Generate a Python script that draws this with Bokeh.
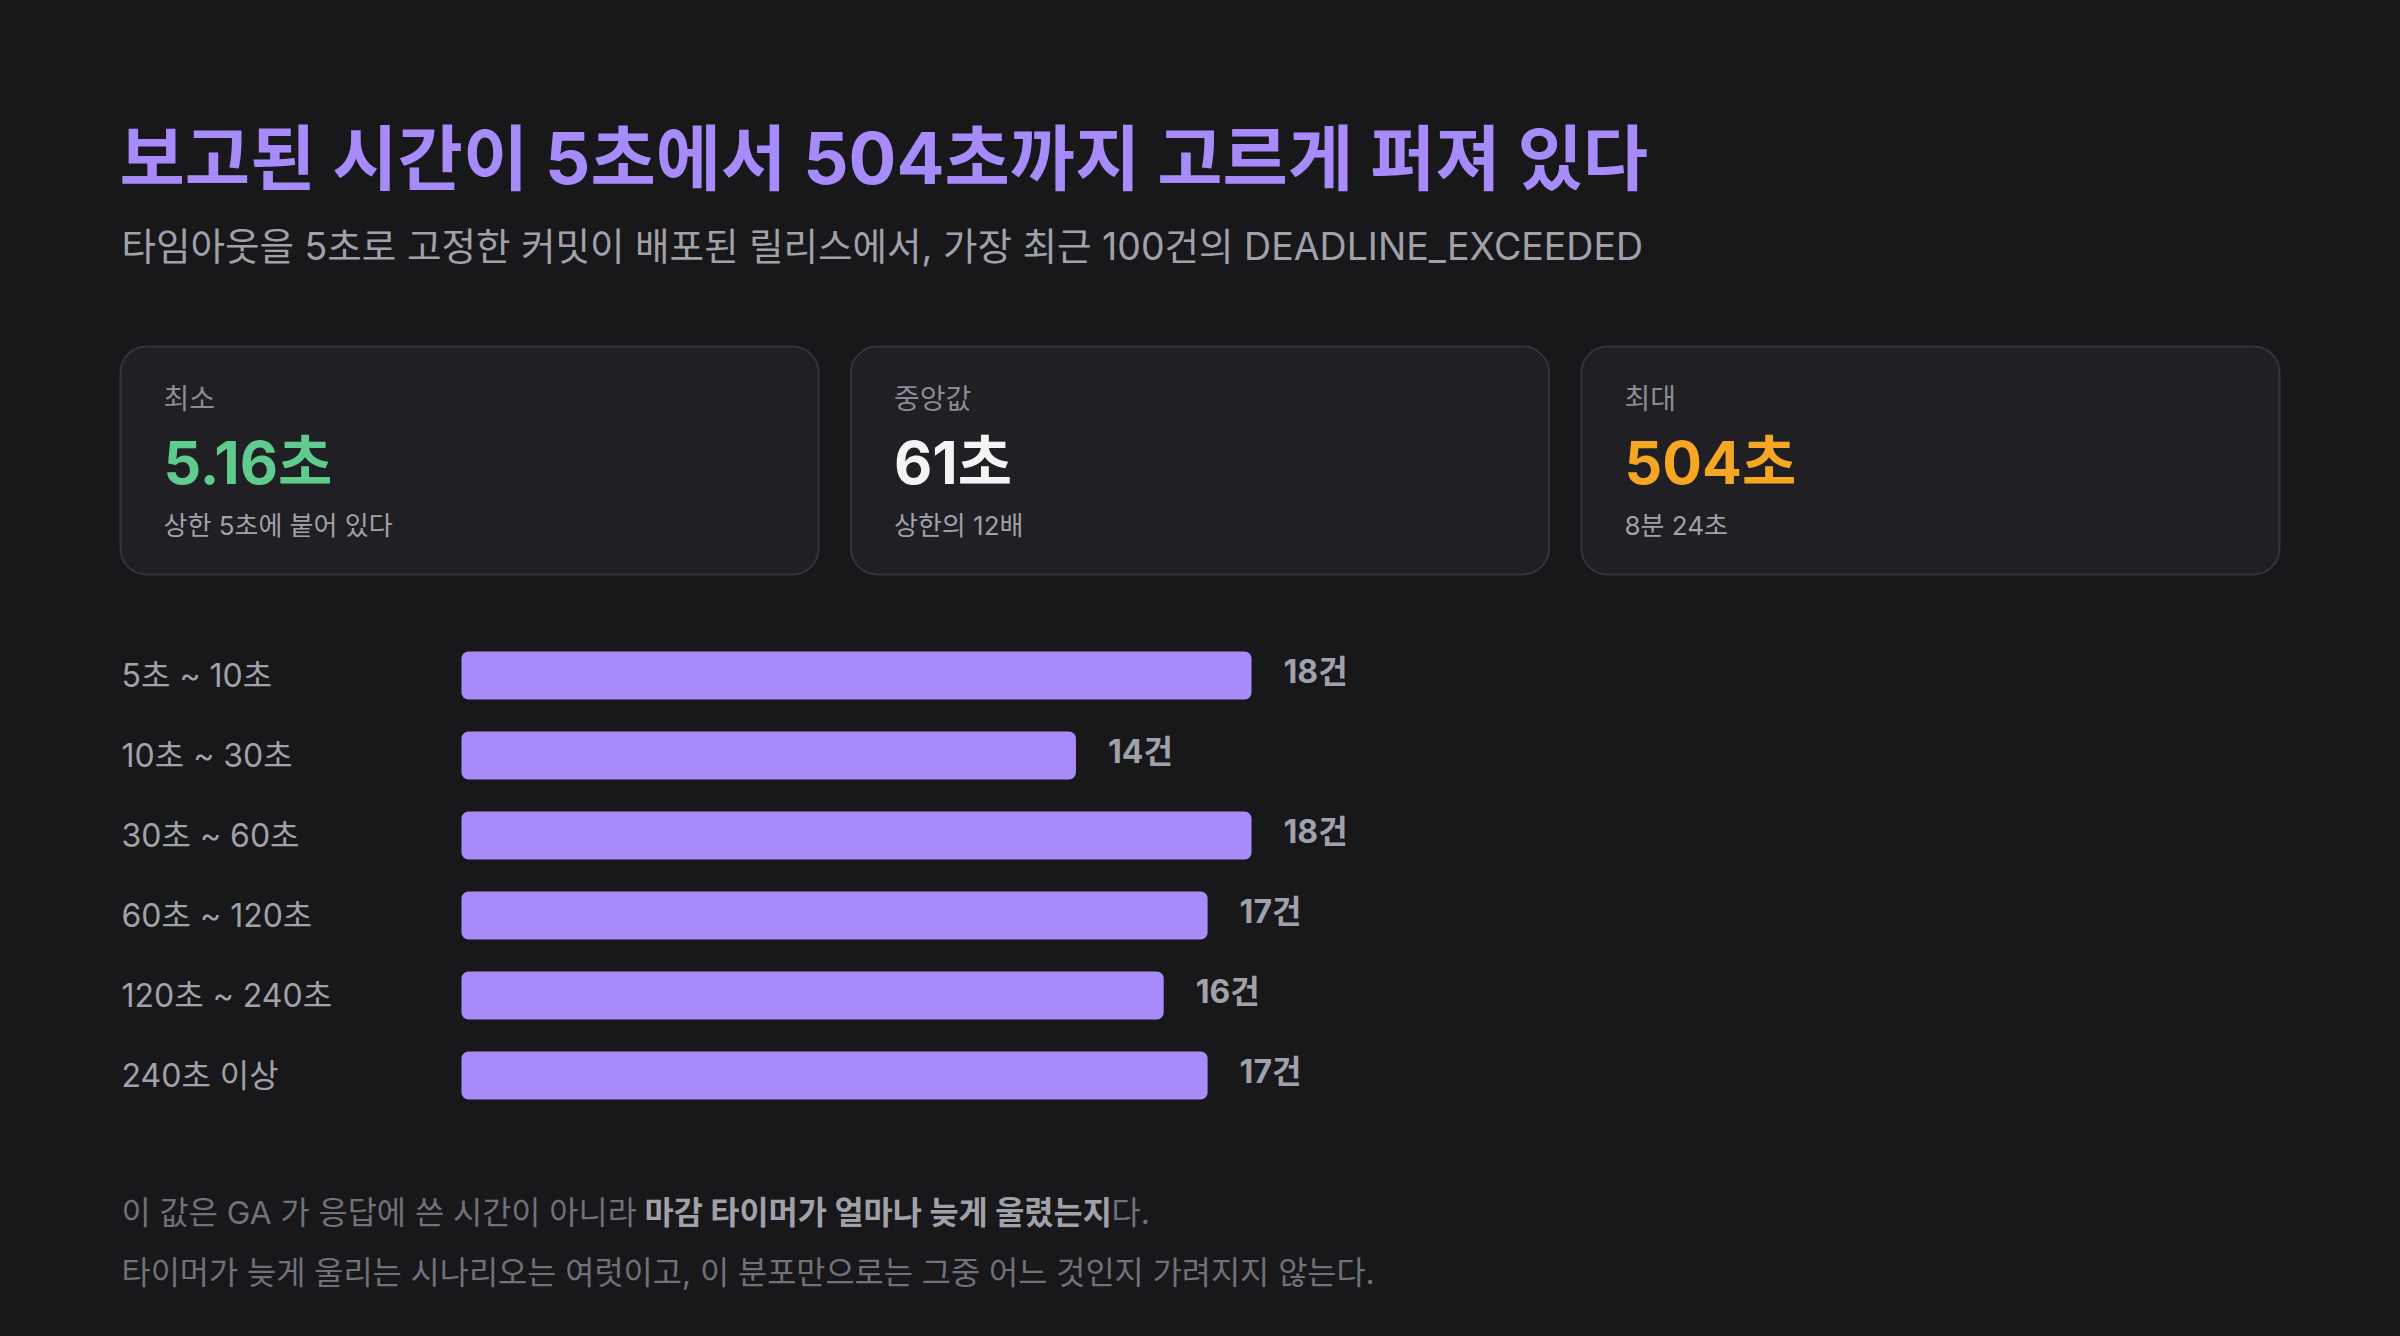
from bokeh.plotting import figure
from bokeh.models import Range1d
from bokeh.core.properties import value
from bokeh.embed import file_html
from bokeh.resources import INLINE

# ---------------- data ----------------
TITLE = "보고된 시간이 5초에서 504초까지 고르게 퍼져 있다"
SUBTITLE = "타임아웃을 5초로 고정한 커밋이 배포된 릴리스에서, 가장 최근 100건의 DEADLINE_EXCEEDED"

card_labels = ["최소", "중앙값", "최대"]
card_values = ["5.16초", "61초", "504초"]
card_notes = ["상한 5초에 붙어 있다", "상한의 12배", "8분 24초"]

bin_labels = ["5초 ~ 10초", "10초 ~ 30초", "30초 ~ 60초", "60초 ~ 120초", "120초 ~ 240초", "240초 이상"]
bin_counts = [18, 14, 18, 17, 16, 17]
count_unit = "건"

note_line1 = ["이 값은 GA 가 응답에 쓴 시간이 아니라", "마감 타이머가 얼마나 늦게 울렸는지", "다."]
note_line2 = "타이머가 늦게 울리는 시나리오는 여럿이고, 이 분포만으로는 그중 어느 것인지 가려지지 않는다."

# ---------------- style ----------------
BG = "#18181b"
CARD_BG = "#1f1f24"
CARD_BORDER = "#34343b"
PURPLE = "#a78bfa"
MUTED = "#a1a1aa"
DIM = "#8b8b94"
FAINT = "#71717a"
card_value_colors = ["#5fcb8f", "#f4f4f5", "#f5a623"]
FONT = value("Inter, 'Noto Sans CJK KR', sans-serif")

W, H = 2400, 1336

p = figure(width=W, height=H, x_range=Range1d(0, W), y_range=Range1d(H, 0),
           output_backend="svg", toolbar_location=None, min_border=0,
           x_axis_location=None, y_axis_location=None,
           background_fill_color=BG, border_fill_color=BG, outline_line_color=None)
p.grid.visible = False

# title + subtitle
p.text(x=[119], y=[157], text=[TITLE], text_font=FONT, text_font_size="71px",
       text_font_style="bold", text_color=PURPLE, text_baseline="middle", text_align="left")
p.text(x=[121], y=[246], text=[SUBTITLE], text_font=FONT, text_font_size="37.5px",
       text_color=MUTED, text_baseline="middle", text_align="left")

# cards
CARD_X0, CARD_STEP, CARD_W = 120, 730.5, 698
CARD_TOP, CARD_BOT = 346, 574
lefts = [CARD_X0 + i * CARD_STEP for i in range(len(card_labels))]
p.quad(left=lefts, right=[l + CARD_W for l in lefts], top=[CARD_TOP] * 3, bottom=[CARD_BOT] * 3,
       fill_color=CARD_BG, line_color=CARD_BORDER, line_width=2, border_radius=26)
tx = [l + 43 for l in lefts]
p.text(x=tx, y=[398] * 3, text=card_labels, text_font=FONT, text_font_size="28px",
       text_color=DIM, text_baseline="middle", text_align="left")
p.text(x=tx, y=[462] * 3, text=card_values, text_font=FONT, text_font_size="59px",
       text_font_style="bold", text_color=card_value_colors, text_baseline="middle", text_align="left")
p.text(x=tx, y=[525] * 3, text=card_notes, text_font=FONT, text_font_size="26px",
       text_color=MUTED, text_baseline="middle", text_align="left")

# bars: count scale and row scale
BAR_X0, PX_PER = 461, 790 / 18
ROW0, ROW_STEP = 675, 80
p.extra_x_ranges = {"count": Range1d(start=-BAR_X0 / PX_PER, end=(W - BAR_X0) / PX_PER)}
p.extra_y_ranges = {"row": Range1d(start=(H - ROW0) / ROW_STEP, end=-ROW0 / ROW_STEP)}
rows = list(range(len(bin_labels)))

p.hbar(y=rows, left=0, right=bin_counts, height=0.6, x_range_name="count", y_range_name="row",
       fill_color=PURPLE, line_color=None, border_radius=7)
p.text(x=bin_counts, y=rows, text=[f"{c}{count_unit}" for c in bin_counts],
       x_range_name="count", y_range_name="row", x_offset=32, y_offset=-4,
       text_font=FONT, text_font_size="32px", text_font_style="bold",
       text_color=MUTED, text_baseline="middle", text_align="left")
p.text(x=[121] * len(rows), y=rows, text=bin_labels, y_range_name="row",
       text_font=FONT, text_font_size="32px", text_color=MUTED,
       text_baseline="middle", text_align="left")

# footnotes
p.text(x=[121], y=[1212], text=[note_line1[0]], text_font=FONT, text_font_size="31.7px",
       text_color=FAINT, text_baseline="middle", text_align="left")
p.text(x=[644], y=[1212], text=[note_line1[1]], text_font=FONT, text_font_size="31.7px",
       text_font_style="bold", text_color=MUTED, text_baseline="middle", text_align="left")
p.text(x=[1111], y=[1212], text=[note_line1[2]], text_font=FONT, text_font_size="31.7px",
       text_color=FAINT, text_baseline="middle", text_align="left")
p.text(x=[121], y=[1272], text=[note_line2], text_font=FONT, text_font_size="31.7px",
       text_color=FAINT, text_baseline="middle", text_align="left")

html = file_html(p, INLINE)
html = html.replace("</head>", "<style>html, body { background: %s; }</style></head>" % BG, 1)
open("out.html", "w").write(html)
